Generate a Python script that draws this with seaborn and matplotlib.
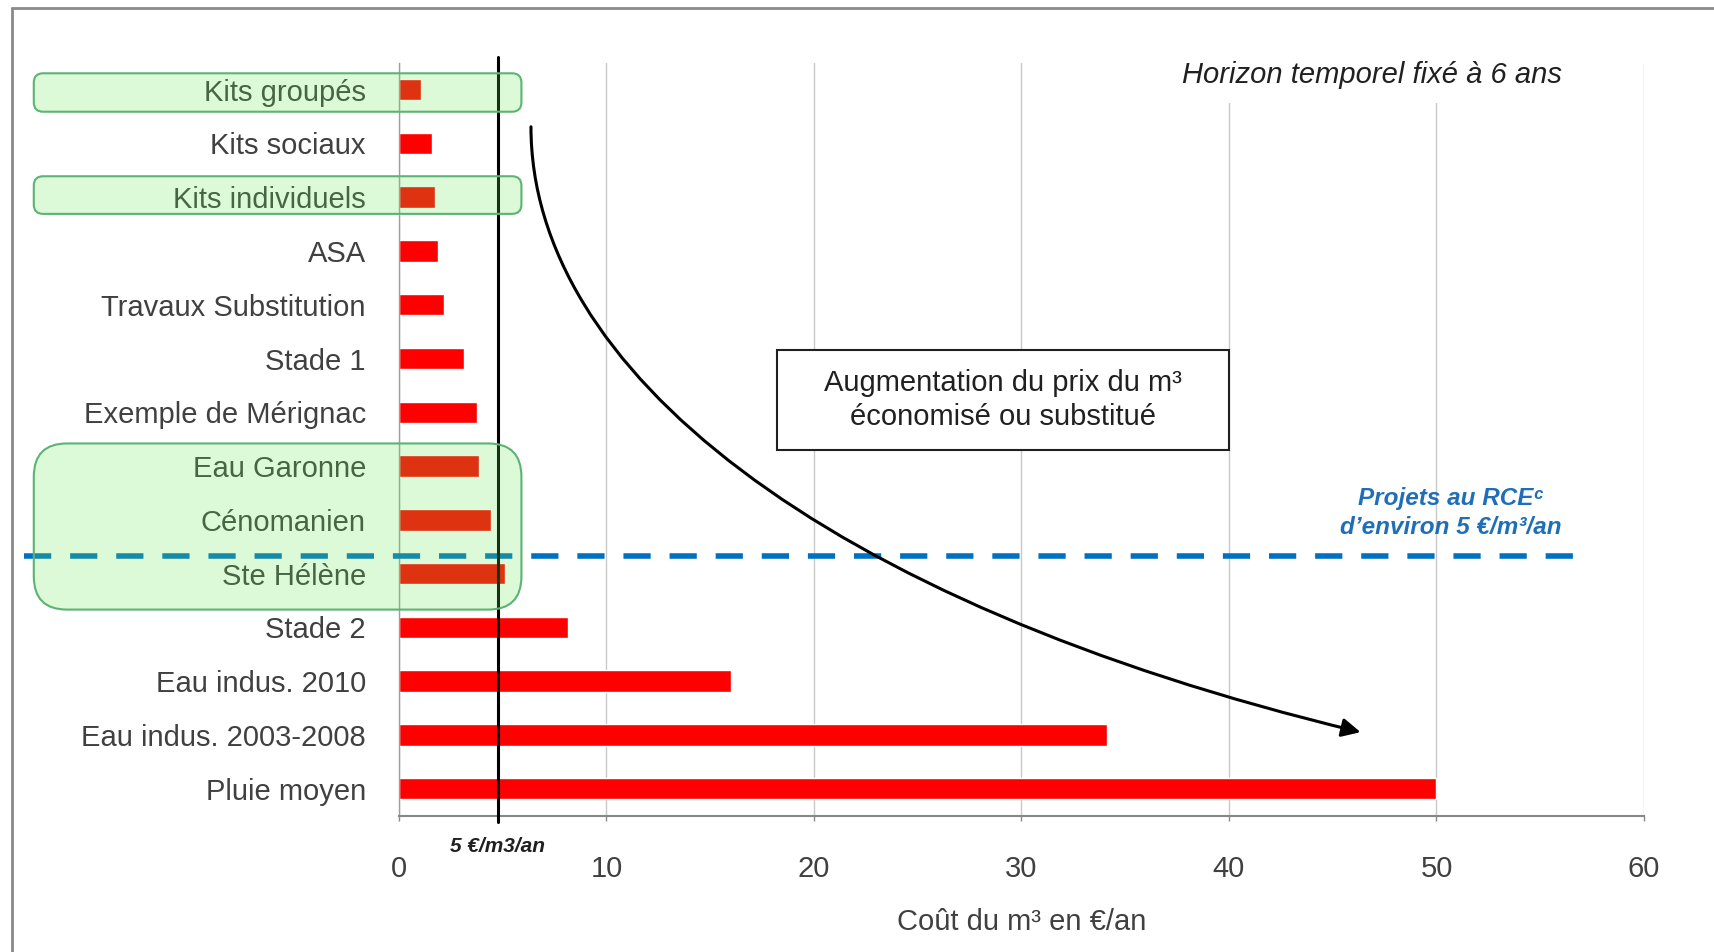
import matplotlib
matplotlib.use("Agg")
import matplotlib.pyplot as plt
import seaborn as sns
import pandas as pd
from matplotlib.patches import FancyBboxPatch, Rectangle, FancyArrowPatch
from matplotlib.path import Path
from matplotlib.lines import Line2D

# Cout du m3 economise ou substitue (EUR/an)
projets = [
    "Kits groupés", "Kits sociaux", "Kits individuels", "ASA",
    "Travaux Substitution", "Stade 1", "Exemple de Mérignac",
    "Eau Garonne", "Cénomanien", "Ste Hélène", "Stade 2",
    "Eau indus. 2010", "Eau indus. 2003-2008", "Pluie moyen",
]
couts = [1.05, 1.6, 1.75, 1.9, 2.15, 3.15, 3.75, 3.85, 4.45, 5.1, 8.15, 16.0, 34.1, 50.0]
xticks = [0, 10, 20, 30, 40, 50, 60]
seuil = 4.75          # ligne verticale "5 €/m3/an" telle que dessinee
niveau_rce = 8.67     # ligne pointillee "Projets au RCE"

TXT = "#404040"
GREEN_FILL = (0.40, 0.92, 0.31, 0.22)
GREEN_EDGE = (0.36, 0.70, 0.45, 1.0)

sns.set_theme(style="white")
plt.rcParams['font.family'] = ['Liberation Sans', 'DejaVu Sans']

fig = plt.figure(figsize=(17.15, 9.52), dpi=100)
ax = fig.add_axes([0.23265, 0.14338, 0.72595, 0.79065])

df = pd.DataFrame({"projet": projets, "cout": couts})
sns.barplot(data=df, x="cout", y="projet", orient="h", color="#ff0000",
            saturation=1, width=0.4, ax=ax, zorder=2)

n = len(projets)
ax.set_xlim(0, 60)
ax.set_ylim(n - 0.5, -0.5)
ax.set_xticks(xticks)
ax.set_ylabel("")
ax.set_xlabel("Coût du m³ en €/an", fontsize=21, color=TXT, labelpad=18)
ax.xaxis.grid(True, color="#c8c8c8", lw=1)
ax.yaxis.grid(False)
ax.set_axisbelow(True)
ax.tick_params(axis="x", length=3.6, width=1, color="#888888", pad=25,
               labelsize=21, labelcolor=TXT, bottom=True)
ax.tick_params(axis="y", length=0, pad=23.8, labelsize=21, labelcolor=TXT)
for s in ["top", "right"]:
    ax.spines[s].set_visible(False)
ax.spines["bottom"].set_color("#888888")
ax.spines["bottom"].set_linewidth(1.5)
ax.spines["left"].set_color("#9aa0a0")
ax.spines["left"].set_linewidth(1)

# ligne verticale 5 EUR/m3/an
ax.plot([seuil, seuil], [-0.61, n - 0.38], color="black", lw=2.2,
        clip_on=False, zorder=4)
ax.text(seuil, n + 0.08, "5 €/m3/an", ha="center", va="center", fontsize=15,
        weight="bold", style="italic", color="#202020")

# ligne pointillee bleue
ax.plot([-18.06, 57.03], [niveau_rce, niveau_rce], color="#0070c0", lw=4,
        dashes=(4.9, 3.4), clip_on=False, zorder=3)
ax.text(50.7, 7.88, "Projets au RCEᶜ\nd’environ 5 €/m³/an", ha="center",
        va="center", fontsize=17.5, weight="bold", style="italic",
        color="#1f6fb8", linespacing=1.35, zorder=5)

# encart horizon
ax.add_patch(Rectangle((35.7, -0.8), 22.1, 1.05, facecolor="white",
                       edgecolor="none", clip_on=False, zorder=1))
ax.text(46.9, -0.27, "Horizon temporel fixé à 6 ans", ha="center", va="center",
        fontsize=21, style="italic", color="#202020", zorder=5)

# encart augmentation
ax.add_patch(Rectangle((18.21, 4.84), 21.77, 1.86, facecolor="white",
                       edgecolor="#202020", lw=1.5, zorder=5))
ax.text(29.1, 5.77, "Augmentation du prix du m³\néconomisé ou substitué",
        ha="center", va="center", fontsize=21, color="#202020",
        linespacing=1.3, zorder=6)

# fleche courbe
verts = [(6.36, 0.69), (6.36, 5.16), (20.13, 9.51), (46.34, 11.95)]
codes = [Path.MOVETO, Path.CURVE4, Path.CURVE4, Path.CURVE4]
ax.add_patch(FancyArrowPatch(path=Path(verts, codes), arrowstyle="-|>",
                             mutation_scale=28, lw=2.2, color="black",
                             clip_on=False, zorder=5))

# cadres verts arrondis
fig.canvas.draw()
p0 = ax.transData.transform((0, 0))
p1 = ax.transData.transform((1, 1))
aspect = abs((p1[1] - p0[1]) / (p1[0] - p0[0]))
for (x0, x1, y0, y1, r) in [(-17.6, 5.9, -0.305, 0.41, 0.45),
                            (-17.6, 5.9, 1.61, 2.31, 0.45),
                            (-17.6, 5.9, 6.58, 9.67, 1.6)]:
    ax.add_patch(FancyBboxPatch((x0, y0), x1 - x0, y1 - y0,
                                boxstyle=f"round,pad=0,rounding_size={r}",
                                mutation_aspect=1 / aspect,
                                facecolor=GREEN_FILL, edgecolor=GREEN_EDGE,
                                lw=1.5, clip_on=False, zorder=7))

# bordure de la figure
fig.add_artist(Line2D([12 / 1715, 1], [1 - 8 / 952] * 2, color="#8a8a8a",
                      lw=2, transform=fig.transFigure))
fig.add_artist(Line2D([12 / 1715] * 2, [0, 1 - 8 / 952], color="#8a8a8a",
                      lw=2, transform=fig.transFigure))

fig.savefig("out.png", dpi=100)
